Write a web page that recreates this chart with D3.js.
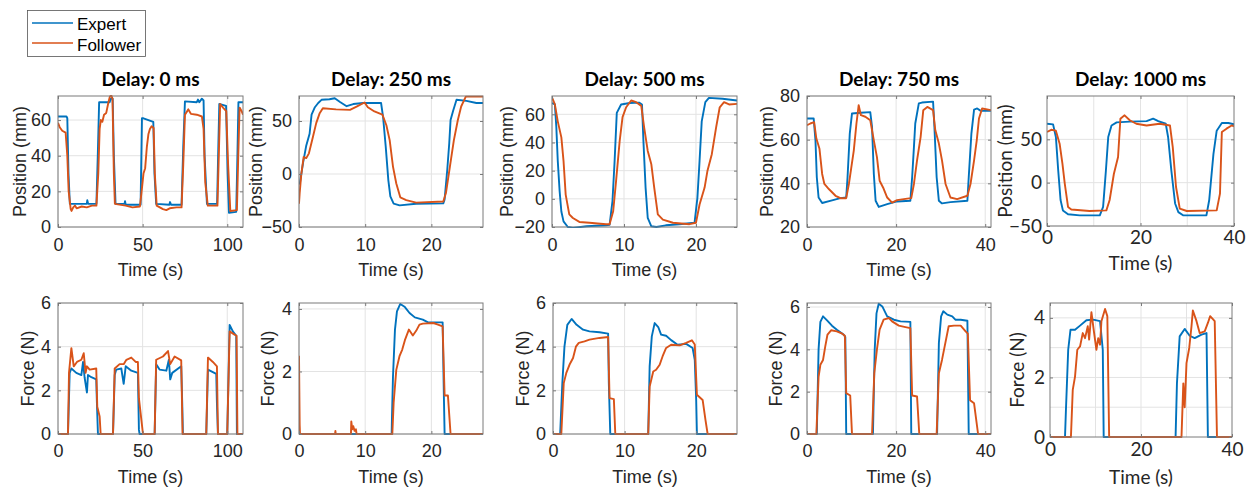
<!DOCTYPE html>
<html>
<head>
<meta charset="utf-8">
<script src="https://cdn.jsdelivr.net/npm/d3@7"></script>
<style>
  body { margin: 0; background: #fff; }
  svg { display: block; }
</style>
</head>
<body>
<svg id="fig" width="1248" height="489"></svg>
<script>
// Series names and delays
let seriesNames = ["Expert", "Follower"];
let delays = [0, 250, 500, 750, 1000];

// Position (mm) over time (s), [t, value]
let posExpert0 = [[0,62],[5,62],[5.5,61],[6.2,30],[7,13],[17,13],[17.3,15],[17.8,13],[22.7,13],[23.5,40],[24.3,70],[30.5,70],[31.2,72],[32.3,72],[33,40],[34,13],[39.3,13],[39.6,14.5],[40,12.5],[48.8,12.5],[49.6,61],[50.5,61],[56.3,59],[57,30],[58,13],[65.8,12.5],[66.2,14],[66.8,12.5],[73,12.5],[74,45],[75,70.5],[82,70],[82.7,71.5],[83.5,70],[85,72],[86,71],[86.6,40],[88,13],[94,13],[94.6,40],[95.3,69],[99.3,68],[100.2,30],[101,8],[105.3,8.5],[106,40],[106.6,70],[109.3,70]];
let posFollower0 = [[0,58.5],[1,56],[2.5,54],[4.5,53],[5.5,40],[6.3,20],[7.5,10],[8,9],[9,11],[10,12],[11,10.5],[14,11.5],[17,11],[20,12],[22.7,12],[23.8,30],[24.6,55],[25.3,60],[26.2,59],[27.2,63],[28.5,64],[29.8,70],[30.6,73],[31.4,74],[32.2,72],[33,30],[33.6,13],[40,12],[44,11],[48.4,11.5],[49.4,20],[50.5,30],[51.5,33],[52.5,45],[53.4,52],[54.3,55],[55.3,56.5],[56.5,55.5],[57.2,30],[58.3,12],[62,10],[64,9.5],[66,10.5],[70,11],[73,11],[74,35],[75,63],[77,66],[78.5,63.5],[82,63],[85,62],[86,55],[87,25],[88.5,12],[94.2,12],[95,40],[95.8,69],[97.5,67],[99.4,65],[100.5,35],[101.8,9],[105.7,9.5],[106.5,40],[107.3,67],[108.5,65],[109.3,63]];

let posExpert250 = [[0.1,-10],[0.6,10],[1.1,27],[1.6,38],[1.9,56],[2.4,63],[2.9,67],[3.4,70],[4.6,70.5],[5.4,71.5],[6.2,68],[7.2,64],[8.2,66],[9.7,67],[12.4,67],[12.7,54],[13.1,26],[13.5,-6],[13.8,-21],[14.3,-28],[15.2,-29.6],[17.7,-28],[21.8,-27.7],[22,-24],[22.4,4],[22.7,29],[22.9,51],[23.3,60],[23.8,70],[25.3,69],[26.8,67],[27.8,67]];
let posFollower250 = [[0,-28],[0.1,-18],[0.35,0],[0.7,16],[1.1,15],[1.5,19.5],[2.1,35],[2.6,48],[3.1,57],[3.6,62],[5.6,61],[7.7,60.5],[8.7,63.5],[9.9,67.5],[10.4,63],[11.4,59],[12.6,56],[13.2,46],[13.7,32],[14.2,7],[14.7,-9],[15.3,-22],[16.2,-24.6],[17.7,-27],[21.8,-26],[22.2,-18],[22.8,7],[23.4,32],[24,51],[24.5,63.7],[25.2,73],[27.8,73]];

let posExpert500 = [[0,68],[0.4,67],[0.6,51],[0.8,27],[1.06,5.5],[1.3,-9],[1.6,-16],[2.2,-20],[2.9,-20.7],[4.8,-19.5],[7.5,-18.8],[8,-18.5],[8.4,-1.7],[8.7,27],[9,61],[9.6,67],[10.8,68],[12.1,68.3],[12.5,67],[12.7,41],[13,8],[13.3,-13.6],[13.8,-19.5],[14.5,-20],[15.8,-18.8],[17.7,-18],[19.8,-17],[20.2,0.7],[20.5,27],[20.8,55],[21.3,68.6],[21.8,71.7],[23.7,71],[25.7,69.8]];
let posFollower500 = [[0,72],[0.4,67],[0.8,55],[1.3,43.6],[1.6,27],[1.9,3],[2.4,-11],[2.9,-13.6],[3.8,-16.4],[5.2,-17],[7.5,-18],[8,-18],[8.5,-8.8],[8.9,12.6],[9.4,41],[9.8,58],[10.3,65],[11,69.8],[11.7,68.6],[12.4,66],[12.8,50.7],[13.3,34],[13.8,24.5],[14.2,8],[14.7,-11],[15.4,-14.8],[16.8,-17],[19.1,-18],[20,-17],[20.5,-4],[21.2,8],[21.6,20],[22.2,31.7],[22.8,50.7],[23.3,65],[23.9,68.6],[24.6,67],[25.7,67.4]];

let posExpert750 = [[0,69.7],[1.5,69.7],[1.9,59.7],[2.2,42.8],[2.6,33.5],[3.4,31],[5.2,32],[7.5,33.2],[8.8,33.5],[9.1,42.8],[9.6,62.8],[10.1,72],[12,72.3],[14.2,72.6],[14.6,65.8],[15,44.3],[15.4,32],[16.1,29.2],[18,30.5],[20.2,31.7],[23.2,32],[23.6,42.8],[24,56.6],[24.3,67.4],[25.1,76.6],[25.8,77],[28.3,77.4],[28.6,65.8],[29.1,42.8],[29.6,32],[30.3,30.8],[32.2,31.4],[36,32],[36.3,42.8],[36.9,62.8],[37.5,73.8],[38.2,74.3],[39,73.2],[41.3,73.2]];
let posFollower750 = [[0,66.6],[0.75,67.4],[1.6,68],[2.1,60.5],[2.8,55.8],[3.4,44.3],[3.9,39.7],[4.9,37.4],[6.4,34.3],[7.5,33.2],[8.8,33.2],[9.4,39.7],[9.9,46.6],[10.5,55],[11.1,67.4],[11.6,75.8],[12.1,71.2],[13.1,70.5],[14.2,68.9],[15,59.7],[15.7,52],[16.3,41.2],[17.1,38],[18,33.5],[19.1,31.2],[20.2,32.3],[22.5,33],[23.4,33.2],[24,39.7],[24.7,50.5],[25.5,61.2],[26.1,73.5],[27,75],[28.3,73.5],[28.8,64.3],[29.6,58.2],[30.3,50.5],[31.1,39.7],[32.2,33.5],[33.7,32.8],[36,34.3],[36.7,39.7],[37.5,50.5],[38.1,59.7],[38.6,69.7],[39.3,74.3],[41.3,73.5]];

let posExpert1000 = [[0,68],[1.3,67.3],[1.9,52.7],[2.4,14],[2.9,-20],[3.4,-32],[4.5,-36.5],[7,-37.7],[11.3,-37.7],[12,-28],[12.6,14],[13.1,52.7],[13.8,66],[14.9,69.6],[17.7,70.4],[21.3,71],[22.7,73.8],[23.8,71],[25.4,68],[25.9,52.7],[26.6,14],[27.4,-24],[28.1,-34],[29.1,-37.7],[34.1,-37.7],[34.7,-20],[35.6,33],[36.3,60],[37.4,68.8],[38.8,68.8],[40,67.3]];
let posFollower1000 = [[0,58.5],[0.9,61],[1.9,60],[2.7,45],[3.3,22],[3.8,-1],[4.5,-28],[5.2,-31],[9.1,-32.7],[12.7,-32],[13.4,-20],[14.3,10],[15.2,29.6],[15.7,73.8],[16.6,77.7],[17.7,72],[19.1,68],[21.3,66],[24.1,68],[26.3,66],[26.9,41],[27.6,-5],[28.4,-30],[29.9,-32.7],[36.3,-32],[37,-12.7],[37.4,58.5],[38.4,62.3],[39.5,66],[40,65]];

// Force (N) over time (s), [t, value]
let forceExpert0 = [[0,0],[5.9,0],[6.9,2.8],[7.9,3.0],[10.8,2.8],[13.8,2.7],[14.8,3.3],[15.7,2.6],[17.1,1.9],[17.7,2.7],[19.7,2.6],[22.6,2.5],[23,1.4],[23.6,0],[32.5,0],[33.5,2.7],[34.4,2.95],[37.4,3.0],[38.8,2.3],[40,3.1],[43.3,2.9],[47.2,2.8],[47.8,0.2],[48.2,0],[57.1,0],[58,3.2],[60,2.95],[64,2.9],[65.5,3.4],[66.3,2.5],[67.5,2.8],[72.8,3.1],[73.4,1.4],[73.8,0],[87.6,0],[88.6,2.95],[93.5,2.75],[93.9,1.4],[94.5,0],[100,0],[101.4,5.0],[103.3,4.7],[105.3,4.5],[105.7,0],[109.3,0]];
let forceFollower0 = [[0,0],[5.9,0],[6.5,2.8],[7.9,3.93],[9.3,3.1],[11.2,3.3],[13.8,3.4],[15.2,3.7],[16.3,2.8],[17.1,3.1],[18.7,2.95],[22.6,3.0],[23.2,1.25],[24.6,0.8],[25.2,0],[32.5,0],[33.5,3.0],[36.4,3.2],[38.8,3.2],[40.4,3.4],[43.3,3.5],[45.9,3.3],[47.2,3.3],[47.8,1.64],[50.2,0],[57.1,0],[58,3.4],[62,3.55],[65,3.8],[66.3,3.2],[68.9,3.55],[72.8,3.37],[73.6,0],[87.6,0],[88.6,3.5],[91.5,3.3],[93.9,3.1],[94.5,0],[100,0],[101.4,4.7],[104.3,4.55],[105.5,4.5],[106,0],[109.3,0]];

let forceExpert250 = [[0,0],[14,0],[14.05,0.55],[14.2,1.84],[14.5,3.34],[14.8,3.92],[15.3,4.16],[16,4.06],[16.7,3.87],[17.5,3.73],[18.7,3.66],[19.5,3.57],[21.7,3.57],[21.9,1.1],[22,0],[27.8,0]];
let forceFollower250 = [[0,2.5],[0.1,0.3],[0.15,0],[5.45,0],[5.5,0.1],[5.55,0],[7.85,0],[7.9,0.4],[8.05,0.15],[8.2,0.25],[8.4,0.1],[8.6,0.15],[8.7,0],[14.1,0],[14.3,1.0],[14.7,2.05],[15.2,2.5],[15.6,2.7],[16,3.0],[16.6,3.34],[17.2,3.15],[17.7,3.3],[18.2,3.5],[18.7,3.53],[20.3,3.55],[21,3.5],[21.7,3.44],[22,1.23],[22.5,1.23],[22.9,0],[27.8,0]];

let forceExpert500 = [[0,0],[1,0],[1.3,2.3],[1.6,4.0],[2,5.0],[2.6,5.27],[3.3,5.0],[4.2,4.78],[5.1,4.7],[6.5,4.66],[7.7,4.6],[7.8,2.3],[8,0],[13.3,0],[13.5,3.1],[13.8,4.47],[14.2,5.08],[14.7,4.9],[15.1,4.55],[15.8,4.5],[16.5,4.3],[17.4,4.09],[18.6,4.13],[19.5,3.94],[19.8,3.4],[20,1.56],[20.1,0],[25.7,0]];
let forceFollower500 = [[0,0],[1.16,0],[1.5,2.33],[1.86,2.8],[2.3,3.17],[2.8,3.48],[3.2,4.0],[3.6,4.17],[4.4,4.24],[5.1,4.32],[6.5,4.4],[7.7,4.44],[7.9,1.64],[8.5,1.6],[8.7,0],[13.3,0],[13.5,2.17],[14,2.86],[14.4,2.94],[14.9,3.17],[15.3,3.55],[15.8,3.94],[16.5,4.09],[17.7,4.06],[18.6,4.17],[19.4,4.29],[19.8,4.1],[20.1,1.8],[20.9,1.56],[21.3,0.64],[21.6,0],[25.7,0]];

let forceExpert750 = [[0,0],[2.2,0],[2.6,4.0],[3,5.3],[3.6,5.56],[4.5,5.37],[5.6,5.12],[6.7,4.93],[8.2,4.7],[8.6,4.58],[8.8,0],[14.8,0],[15.2,4.0],[15.6,5.7],[16.1,6.16],[16.9,6.03],[18,5.56],[19.5,5.4],[21,5.32],[23.2,5.3],[23.4,0],[29.2,0],[29.6,4.3],[30.1,5.56],[30.6,5.8],[31.5,5.64],[32.6,5.56],[33.3,5.4],[34.5,5.4],[36,5.35],[36.3,0],[41.3,0]];
let forceFollower750 = [[0,0],[2.1,0],[2.6,2.7],[3,3.27],[3.6,3.5],[4.1,4.14],[4.6,4.7],[5.4,4.9],[6.7,4.85],[7.9,4.74],[8.5,4.64],[8.8,1.93],[9.7,1.82],[10.1,0],[14.6,0],[15.1,2.87],[15.7,4.0],[16.3,4.93],[17.2,5.4],[18.4,5.48],[19.1,5.32],[20.6,5.12],[22.1,5.05],[23.2,5.0],[23.6,1.82],[24.7,1.77],[25.2,0],[29.1,0],[29.6,2.87],[30.3,3.5],[30.9,4.14],[31.8,5.09],[33,5.12],[34.5,5.12],[35.6,4.85],[36.1,4.74],[36.6,1.6],[37.5,1.45],[38.4,0],[41.3,0]];

let forceExpert1000 = [[0,0],[3.3,0],[3.5,0.9],[4,2.93],[4.5,3.6],[5.5,3.6],[6.6,3.74],[8,3.92],[9.5,3.94],[11,3.89],[11.6,2.93],[11.8,0],[27.6,0],[27.9,1.8],[28.5,3.38],[29.6,3.63],[30.7,3.4],[31.8,3.32],[33.3,3.44],[34.4,3.49],[34.7,0],[40,0]];
let forceFollower1000 = [[0,0],[4.6,0],[5,1.58],[5.5,2.03],[6,2.93],[6.6,3.04],[7.2,3.49],[7.7,3.32],[8.3,3.72],[8.6,3.27],[9.1,4.19],[9.7,3.49],[10.2,2.93],[10.6,3.32],[11,3.1],[11.3,3.89],[12.1,4.3],[12.6,4.06],[13,0],[28.9,0],[29.3,1.8],[29.6,1.0],[30,2.48],[30.6,2.99],[31.1,3.72],[31.4,4.25],[32.2,3.89],[32.9,3.49],[34,3.55],[34.7,3.83],[35.2,4.06],[36.2,3.89],[36.7,0],[40,0]];

// Axis limits and tick labels per panel
let xLimits = [109.3, 27.8, 25.7, 41.3, 40];
let xTicks = [[0, 50, 100], [0, 10, 20], [0, 10, 20], [0, 20, 40], [0, 20, 40]];
let posLimits = [[0, 73.5], [-50, 73.6], [-20, 73], [20, 80], [-50, 100]];
let posTicks = [[0, 20, 40, 60], [-50, 0, 50], [-20, 0, 20, 40, 60], [20, 40, 60, 80], [-50, 0, 50]];
let forceLimits = [[0, 6], [0, 4.19], [0, 6], [0, 6.19], [0, 4.5]];
let forceTicks = [[0, 2, 4, 6], [0, 2, 4], [0, 2, 4, 6], [0, 2, 4, 6], [0, 2, 4]];

let posData = [[posExpert0, posFollower0], [posExpert250, posFollower250], [posExpert500, posFollower500], [posExpert750, posFollower750], [posExpert1000, posFollower1000]];
let forceData = [[forceExpert0, forceFollower0], [forceExpert250, forceFollower250], [forceExpert500, forceFollower500], [forceExpert750, forceFollower750], [forceExpert1000, forceFollower1000]];

let colors = ["#0072BD", "#D95319"];
let arial = "'Liberation Sans', Arial, sans-serif";
let calibri = "Lato, 'Open Sans', sans-serif";

// Panel boxes in pixels [left, right, top, bottom]
let boxTop = [[58, 243, 96, 227], [299, 483, 96, 227], [552, 737, 96, 227], [807, 991, 96, 227], [1047, 1234, 96, 226]];
let boxBottom = [[58, 243, 303, 434], [299, 483, 303, 434], [553, 737, 303, 434], [807, 991, 303, 434], [1050, 1232, 303, 437]];

let svg = d3.select("#fig");
let clipId = 0;

function drawPanel(box, xMax, yLim, xT, yT, series, yLabel, opt) {
  let x = d3.scaleLinear().domain([0, xMax]).range([box[0], box[1]]);
  let y = d3.scaleLinear().domain(yLim).range([box[3], box[2]]);
  let g = svg.append("g");
  let font = opt.font;

  // Gitterlinien
  let xGrid = opt.xGrid || xT;
  let yGrid = opt.yGrid || yT;
  g.selectAll(".gx").data(xGrid).enter().append("line")
    .attr("x1", function(d) { return x(d); })
    .attr("x2", function(d) { return x(d); })
    .attr("y1", box[2]).attr("y2", box[3])
    .attr("stroke", "#e3e3e3").attr("stroke-width", 1);
  g.selectAll(".gy").data(yGrid).enter().append("line")
    .attr("x1", box[0]).attr("x2", box[1])
    .attr("y1", function(d) { return y(d); })
    .attr("y2", function(d) { return y(d); })
    .attr("stroke", "#e3e3e3").attr("stroke-width", 1);

  // Clip
  clipId++;
  svg.append("clipPath").attr("id", "c" + clipId)
    .append("rect")
    .attr("x", box[0]).attr("y", box[2] - 1)
    .attr("width", box[1] - box[0]).attr("height", box[3] - box[2] + 2);

  let line = d3.line()
    .x(function(d) { return x(d[0]); })
    .y(function(d) { return y(d[1]); });

  g.selectAll(".series").data(series).enter().append("path")
    .attr("d", line)
    .attr("clip-path", "url(#c" + clipId + ")")
    .attr("fill", "none")
    .attr("stroke", function(d, i) { return colors[i]; })
    .attr("stroke-width", 1.9)
    .attr("stroke-linejoin", "round");

  // Achsen
  let axB = g.append("g").attr("transform", "translate(0," + box[3] + ")")
    .call(d3.axisBottom(x).tickValues(xT).tickSize(-3).tickPadding(opt.xPad).tickFormat(d3.format("d")));
  let axL = g.append("g").attr("transform", "translate(" + box[0] + ",0)")
    .call(d3.axisLeft(y).tickValues(yT).tickSize(-3).tickPadding(opt.yPad).tickFormat(d3.format("d")));
  let axT = g.append("g").attr("transform", "translate(0," + box[2] + ")")
    .call(d3.axisTop(x).tickValues(xT).tickSize(-3).tickFormat(""));
  let axR = g.append("g").attr("transform", "translate(" + box[1] + ",0)")
    .call(d3.axisRight(y).tickValues(yT).tickSize(-3).tickFormat(""));
  [axB, axL, axT, axR].forEach(function(a) {
    a.select(".domain").remove();
    a.selectAll("line").attr("stroke", "#7a7a7a");
    a.selectAll("text")
      .style("font-family", font)
      .style("font-size", opt.tickSize + "px")
      .attr("fill", "#262626");
  });

  g.append("rect")
    .attr("x", box[0]).attr("y", box[2])
    .attr("width", box[1] - box[0]).attr("height", box[3] - box[2])
    .attr("fill", "none").attr("stroke", "#7a7a7a").attr("stroke-width", 1);

  // Beschriftung
  g.append("text")
    .attr("x", (box[0] + box[1]) / 2).attr("y", opt.xLabelY)
    .attr("dy", "0.35em").attr("text-anchor", "middle")
    .style("font-family", font).style("font-size", opt.labelSize + "px")
    .attr("fill", "#262626")
    .text("Time (s)");
  g.append("text")
    .attr("transform", "translate(" + opt.yLabelX + "," + (box[2] + box[3]) / 2 + ") rotate(-90)")
    .attr("dy", "0.35em").attr("text-anchor", "middle")
    .style("font-family", font).style("font-size", opt.labelSize + "px")
    .attr("fill", "#262626")
    .text(yLabel);

  if (opt.title) {
    g.append("text")
      .attr("x", (box[0] + box[1]) / 2).attr("y", 79)
      .attr("dy", "0.35em").attr("text-anchor", "middle")
      .style("font-family", calibri).style("font-size", "19px")
      .style("font-weight", "bold").attr("fill", "#000")
      .text(opt.title);
  }
}

let posLabelX = [20, 256, 507, 767, 1005];
let forceLabelX = [28, 268, 523, 776, 1017];

for (let i = 0; i < delays.length; i++) {
  let last = i === delays.length - 1;
  let base = {
    font: last ? calibri : arial,
    tickSize: last ? 19 : 18,
    labelSize: last ? 19 : 18,
    yPad: last ? 5 : 7
  };
  drawPanel(boxTop[i], xLimits[i], posLimits[i], xTicks[i], posTicks[i], posData[i], "Position (mm)",
    Object.assign({}, base, {
      xPad: last ? 4 : 11,
      xLabelY: last ? 263 : 270,
      yLabelX: posLabelX[i],
      title: "Delay: " + delays[i] + " ms",
      xGrid: last ? [10, 20, 30] : null
    }));
  drawPanel(boxBottom[i], xLimits[i], forceLimits[i], xTicks[i], forceTicks[i], forceData[i], "Force (N)",
    Object.assign({}, base, {
      xPad: last ? 6 : 10,
      xLabelY: 477,
      yLabelX: forceLabelX[i],
      xGrid: last ? [10, 20, 30] : null,
      yGrid: last ? [1, 2, 3, 4] : null
    }));
}

// Legende
let legend = svg.append("g");
legend.append("rect")
  .attr("x", 27.5).attr("y", 10.5).attr("width", 118).attr("height", 46)
  .attr("fill", "#fff").attr("stroke", "#555").attr("stroke-width", 0.8);
legend.selectAll(".lg").data(seriesNames).enter().append("line")
  .attr("x1", 32).attr("x2", 73)
  .attr("y1", function(d, i) { return 23 + i * 20; })
  .attr("y2", function(d, i) { return 23 + i * 20; })
  .attr("stroke", function(d, i) { return colors[i]; })
  .attr("stroke-width", 1.7);
legend.selectAll(".lt").data(seriesNames).enter().append("text")
  .attr("x", 77)
  .attr("y", function(d, i) { return 24 + i * 21; })
  .attr("dy", "0.35em")
  .style("font-family", arial).style("font-size", "17px")
  .attr("fill", "#000")
  .text(function(d) { return d; });
</script>
</body>
</html>
